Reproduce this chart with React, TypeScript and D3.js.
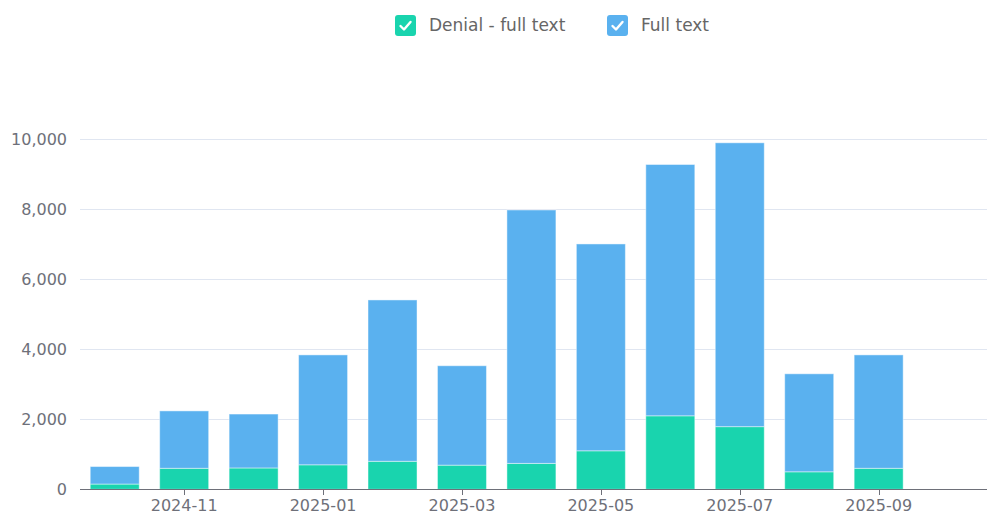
import React, { useEffect, useRef } from "react";
import * as d3 from "d3";

const months = ["2024-10", "2024-11", "2024-12", "2025-01", "2025-02", "2025-03", "2025-04", "2025-05", "2025-06", "2025-07", "2025-08", "2025-09"];
const denialFullText = [150, 600, 610, 700, 800, 690, 740, 1100, 2100, 1790, 500, 600];
const fullText = [500, 1640, 1540, 3140, 4610, 2840, 7240, 5910, 7180, 8110, 2800, 3240];
const yTicks = [0, 2000, 4000, 6000, 8000, 10000];
const seriesNames = ["Denial - full text", "Full text"];
const colors = ["#19d4ae", "#5ab1ef"];

const App = () => {
  const ref = useRef<SVGSVGElement>(null);

  useEffect(() => {
    const width = 987;
    const height = 514;
    const svg = d3.select(ref.current);
    svg.selectAll("*").remove();
    svg.attr("width", width).attr("height", height);

    const font = "'DejaVu Sans', sans-serif";

    const x = d3.scaleLinear().domain([-0.5, 12.56]).range([80, 987]);
    const y = d3.scaleLinear().domain([0, 10000]).range([489.3, 139.3]);

    // grid + y labels
    svg
      .append("g")
      .selectAll("line")
      .data(yTicks.slice(1))
      .enter()
      .append("line")
      .attr("x1", 80)
      .attr("x2", 987)
      .attr("y1", (d) => Math.round(y(d)) + 0.5)
      .attr("y2", (d) => Math.round(y(d)) + 0.5)
      .attr("stroke", "#e0e6f1");

    svg
      .append("g")
      .selectAll("text")
      .data(yTicks)
      .enter()
      .append("text")
      .attr("x", 67)
      .attr("y", (d) => y(d))
      .attr("dy", "0.35em")
      .attr("text-anchor", "end")
      .attr("font-family", font)
      .attr("font-size", 16)
      .attr("fill", "#6e7079")
      .text((d) => d3.format(",")(d));

    const rows = months.map((m, i) => ({ month: m, i, a: denialFullText[i], b: fullText[i] }));
    const stack = d3.stack<any>().keys(["a", "b"])(rows);
    const barW = 49;

    stack.forEach((layer, li) => {
      svg
        .append("g")
        .selectAll("rect")
        .data(layer)
        .enter()
        .append("rect")
        .attr("x", (d) => x(d.data.i) - barW / 2)
        .attr("width", barW)
        .attr("y", (d) => y(d[1]))
        .attr("height", (d) => y(d[0]) - y(d[1]))
        .attr("fill", colors[li])
        .attr("stroke", "rgba(255,255,255,0.45)")
        .attr("stroke-width", 1);
    });

    // x axis
    svg
      .append("line")
      .attr("x1", 80)
      .attr("x2", 987)
      .attr("y1", 489.5)
      .attr("y2", 489.5)
      .attr("stroke", "#6e7079");

    const labeled = rows.filter((r) => r.i % 2 === 1);
    const xg = svg.append("g");
    xg.selectAll("line")
      .data(labeled)
      .enter()
      .append("line")
      .attr("x1", (d) => Math.round(x(d.i)) + 0.5)
      .attr("x2", (d) => Math.round(x(d.i)) + 0.5)
      .attr("y1", 489.5)
      .attr("y2", 495)
      .attr("stroke", "#6e7079");
    xg.selectAll("text")
      .data(labeled)
      .enter()
      .append("text")
      .attr("x", (d) => x(d.i))
      .attr("y", 505)
      .attr("dy", "0.35em")
      .attr("text-anchor", "middle")
      .attr("font-family", font)
      .attr("font-size", 16)
      .attr("fill", "#6e7079")
      .text((d) => d.month);

    // legend
    const legendX = [395, 607];
    seriesNames.forEach((name, i) => {
      const g = svg.append("g").attr("transform", `translate(${legendX[i]}, 15)`);
      g.append("rect").attr("width", 21).attr("height", 21).attr("rx", 3).attr("fill", colors[i]);
      g.append("path")
        .attr("d", "M5.5 11 L9 14.5 L15.5 7")
        .attr("fill", "none")
        .attr("stroke", "#fff")
        .attr("stroke-width", 2.4)
        .attr("stroke-linecap", "round")
        .attr("stroke-linejoin", "round");
      g.append("text")
        .attr("x", 34)
        .attr("y", 10.5)
        .attr("dy", "0.35em")
        .attr("font-family", font)
        .attr("font-size", 17)
        .attr("fill", "#666")
        .text(name);
    });
  }, []);

  return <svg ref={ref} style={{ position: "absolute", left: 0, top: 0 }} />;
};

export default App;
